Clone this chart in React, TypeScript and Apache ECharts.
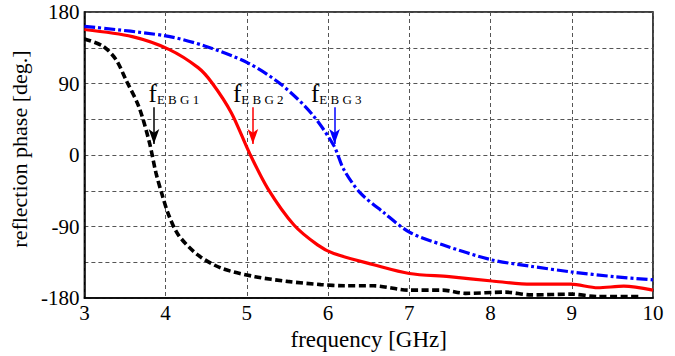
import React, { useEffect, useRef } from "react";
import * as echarts from "echarts";

const xTicks = [3, 4, 5, 6, 7, 8, 9, 10];
const yLabelValues = [-180, -90, 0, 90, 180];

const ebg1: [number, number][] = [
  [3.0, 146], [3.23, 137], [3.39, 120], [3.51, 95], [3.67, 61], [3.8, 16],
  [3.88, -22], [3.96, -51], [4.04, -76], [4.16, -101], [4.4, -126], [4.69, -142.5],
  [5.1, -153], [5.5, -159], [5.91, -163], [6.2, -164.5], [6.56, -164.5], [7.0, -170],
  [7.41, -170], [7.69, -174], [8.18, -172.5], [8.5, -176], [8.99, -175], [9.32, -178],
  [9.85, -178],
];
const ebg2: [number, number][] = [
  [3.0, 158], [3.59, 149], [4.04, 133], [4.4, 110], [4.57, 91], [4.81, 53],
  [5.03, 3], [5.26, -42.5], [5.58, -88], [5.87, -113], [6.07, -124], [6.56, -138],
  [7.0, -149], [7.49, -153], [8.02, -158.5], [8.5, -162.5], [8.99, -162.5],
  [9.32, -167], [9.64, -165], [10.0, -170],
];
const ebg3: [number, number][] = [
  [3.0, 162], [4.0, 150], [4.49, 137], [5.01, 116], [5.42, 89], [5.79, 53],
  [6.07, 12], [6.19, -17.5], [6.39, -47], [6.68, -72], [7.0, -97], [7.41, -113],
  [8.02, -132], [8.5, -140], [8.99, -147], [9.52, -153], [10.0, -157],
];

const labels = ["EBG1", "EBG2", "EBG3"];
const colors = ["#000000", "#ff0000", "#0000ff"];
const arrowX = [3.856, 5.074, 6.08];
const arrowFrom = [60, 60, 60];
const arrowTo = [14, 14, 14];
const textX = [3.79, 4.83, 5.79];
const textY = [62, 62, 62];

const SERIF = "Liberation Serif";

export default function App() {
  const ref = useRef<HTMLDivElement>(null);
  useEffect(() => {
    if (!ref.current) return;
    const chart = echarts.init(ref.current, undefined, { renderer: "svg" });
    const datas = [ebg1, ebg2, ebg3];
    const lineTypes: any[] = [[7, 3.5], "solid", [11, 3, 3, 3]];
    const series: any[] = datas.map((d, i) => ({
      type: "line",
      data: d,
      smooth: 0.3,
      showSymbol: false,
      symbol: "none",
      lineStyle: { color: colors[i], width: i === 0 ? 3.6 : 3.2, type: lineTypes[i] },
      markLine: {
        silent: true,
        symbol: ["none", "arrow"],
        symbolSize: [8, 15],
        label: { show: false },
        lineStyle: { color: colors[i], width: 1.5, type: "solid" },
        data: [[{ coord: [arrowX[i], arrowFrom[i]] }, { coord: [arrowX[i], arrowTo[i]] }]],
      },
    }));
    const option: any = {
      animation: false,
      textStyle: { fontFamily: SERIF },
      grid: {
        left: 78, right: 22, top: 12, bottom: 56,
        show: true, borderColor: "#000", borderWidth: 1.5,
      },
      xAxis: {
        type: "value", min: 3, max: 10, interval: 1,
        name: "frequency [GHz]", nameLocation: "middle", nameGap: 28,
        nameTextStyle: { fontFamily: SERIF, fontSize: 23, color: "#000" },
        axisLine: { onZero: false, lineStyle: { color: "#000", width: 1.5 } },
        axisTick: { show: false },
        axisLabel: {
          fontFamily: SERIF, fontSize: 21, color: "#000", margin: 4,
          formatter: (v: number) => (xTicks.includes(v) ? String(v) : ""),
        },
        splitLine: { show: true, lineStyle: { color: "#555", type: [4, 3], width: 1 } },
      },
      yAxis: {
        type: "value", min: -180, max: 180, interval: 45,
        name: "reflection phase [deg.]", nameLocation: "middle", nameGap: 47,
        nameTextStyle: { fontFamily: SERIF, fontSize: 22, color: "#000", padding: [0, 0, 0, 12] },
        axisLine: { onZero: false, lineStyle: { color: "#000", width: 1.5 } },
        axisTick: { show: false },
        axisLabel: {
          fontFamily: SERIF, fontSize: 21, color: "#000", margin: 5,
          formatter: (v: number) => (yLabelValues.includes(v) ? String(v) : ""),
        },
        splitLine: { show: true, lineStyle: { color: "#555", type: [4, 3], width: 1 } },
      },
      series,
    };
    chart.setOption(option);
    const graphics = labels.map((l, i) => {
      const p = chart.convertToPixel({ gridIndex: 0 }, [textX[i], textY[i]]) as number[];
      return {
        type: "text",
        x: p[0],
        y: p[1],
        silent: true,
        style: {
          text: `{f|f}{s|${l.split("").join(" ")}}`,
          verticalAlign: "bottom",
          fill: "#000",
          rich: {
            f: { fontFamily: SERIF, fontSize: 25, fill: "#000", verticalAlign: "bottom", lineHeight: 24 },
            s: { fontFamily: SERIF, fontSize: 13, fill: "#000", verticalAlign: "bottom", lineHeight: 24 },
          },
        },
      };
    });
    chart.setOption({ graphic: graphics });
    return () => chart.dispose();
  }, []);
  return (
    <div
      ref={ref}
      style={{ position: "fixed", left: 0, top: 0, width: 675, height: 356, background: "#fff" }}
    />
  );
}
